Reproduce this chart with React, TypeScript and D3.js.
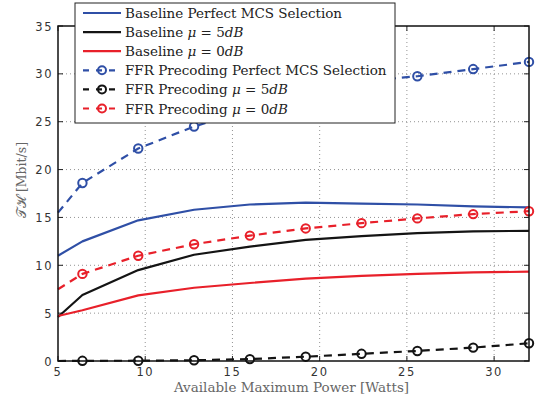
import React from "react";
import * as d3 from "d3";

const xs = [5, 6.4, 9.6, 12.8, 16, 19.2, 22.4, 25.6, 28.8, 32];
const basePerfect = [11.0, 12.5, 14.7, 15.8, 16.35, 16.55, 16.45, 16.35, 16.15, 16.05];
const base5 = [4.6, 6.9, 9.5, 11.1, 11.95, 12.65, 13.05, 13.35, 13.55, 13.6];
const base0 = [4.7, 5.3, 6.85, 7.65, 8.15, 8.6, 8.9, 9.1, 9.25, 9.33];
const ffrPerfect = [15.5, 18.6, 22.2, 24.5, 26.3, 27.9, 29.2, 29.75, 30.5, 31.25];
const ffr5 = [0.0, 0.02, 0.03, 0.08, 0.2, 0.45, 0.75, 1.05, 1.4, 1.85];
const ffr0 = [7.5, 9.1, 11.0, 12.2, 13.1, 13.85, 14.4, 14.9, 15.35, 15.65];
const xTicks = [5, 10, 15, 20, 25, 30];
const yTicks = [0, 5, 10, 15, 20, 25, 30, 35];

const BLUE = "#2f4fa6";
const BLACK = "#141414";
const RED = "#e8202a";

type S = { vals: number[]; color: string; dashed: boolean; label: string; mu?: string };
const series: S[] = [
  { vals: basePerfect, color: BLUE, dashed: false, label: "Baseline Perfect MCS Selection" },
  { vals: base5, color: BLACK, dashed: false, label: "Baseline ", mu: "5" },
  { vals: base0, color: RED, dashed: false, label: "Baseline ", mu: "0" },
  { vals: ffrPerfect, color: BLUE, dashed: true, label: "FFR Precoding Perfect MCS Selection" },
  { vals: ffr5, color: BLACK, dashed: true, label: "FFR Precoding ", mu: "5" },
  { vals: ffr0, color: RED, dashed: true, label: "FFR Precoding ", mu: "0" },
];

export default function App() {
  const W = 538, H = 403;
  const L = 58, R = 529, T = 26, B = 361;
  const x = d3.scaleLinear().domain([5, 32]).range([L, R]);
  const y = d3.scaleLinear().domain([0, 35]).range([B, T]);
  const line = d3.line<number>().x((_, i) => x(xs[i])).y((d) => y(d));
  const serif = "'DejaVu Serif',serif";
  const sans = "'DejaVu Sans', sans-serif";
  const legX = 75, legY = 3, legW = 320, legH = 120;
  return (
    <svg width={W} height={H} style={{ position: "absolute", left: 0, top: 0, background: "#fff" }}>
      <rect x={0} y={0} width={W} height={H} fill="#fff" />
      {xTicks.filter((t) => t !== 5).map((t) => (
        <line key={"gx" + t} x1={x(t)} x2={x(t)} y1={T} y2={B} stroke="#777" strokeWidth={0.8} strokeDasharray="1,3" />
      ))}
      {yTicks.filter((t) => t !== 0 && t !== 35).map((t) => (
        <line key={"gy" + t} x1={L} x2={R} y1={y(t)} y2={y(t)} stroke="#777" strokeWidth={0.8} strokeDasharray="1,3" />
      ))}
      {xTicks.map((t) => (
        <g key={"tx" + t}>
          <line x1={x(t)} x2={x(t)} y1={B} y2={B - 5} stroke="#222" />
          <line x1={x(t)} x2={x(t)} y1={T} y2={T + 5} stroke="#222" />
          <text x={x(t)} y={B + 15} textAnchor="middle" fontFamily={sans} fontSize={11.5} fill="#333" letterSpacing={1.5}>{t}</text>
        </g>
      ))}
      {yTicks.map((t) => (
        <g key={"ty" + t}>
          <line x1={L} x2={L + 5} y1={y(t)} y2={y(t)} stroke="#222" />
          <line x1={R} x2={R - 5} y1={y(t)} y2={y(t)} stroke="#222" />
          <text x={L - 5} y={y(t) + 4.5} textAnchor="end" fontFamily={sans} fontSize={11.5} fill="#333" letterSpacing={1.5}>{t}</text>
        </g>
      ))}
      {series.map((s, si) => (
        <g key={"s" + si}>
          <path d={line(s.vals) || ""} fill="none" stroke={s.color} strokeWidth={2.2} strokeDasharray={s.dashed ? "8,6" : undefined} strokeLinejoin="round" />
          {s.dashed && s.vals.map((v, i) => i === 0 ? null : (
            <circle key={i} cx={x(xs[i])} cy={y(v)} r={4.2} fill="none" stroke={s.color} strokeWidth={2} />
          ))}
        </g>
      ))}
      <rect x={L} y={T} width={R - L} height={B - T} fill="none" stroke="#111" strokeWidth={1.5} />
      <rect x={legX} y={legY} width={legW} height={legH} fill="#fff" stroke="#222" strokeWidth={1} />
      {series.map((s, i) => {
        const cy = 13 + i * 19.1;
        return (
          <g key={"l" + i}>
            <line x1={83} x2={121} y1={cy} y2={cy} stroke={s.color} strokeWidth={2.2} strokeDasharray={s.dashed ? "6,7" : undefined} />
            {s.dashed && <circle cx={102} cy={cy} r={4} fill="none" stroke={s.color} strokeWidth={2} />}
            <text x={125} y={cy + 5} fontFamily={serif} fontSize={13.5} fill="#222">
              {s.label}
              {s.mu && (
                <>
                  <tspan fontStyle="italic">μ</tspan>
                  <tspan> = {s.mu}</tspan>
                  <tspan fontStyle="italic">dB</tspan>
                </>
              )}
            </text>
          </g>
        );
      })}
      <text x={(L + R) / 2 - 2} y={392} textAnchor="middle" fontFamily={serif} fontSize={13.5} fill="#666">Available Maximum Power [Watts]</text>
      <text transform={`translate(26,180) rotate(-90)`} textAnchor="middle" fontFamily={serif} fontSize={12.5} fill="#666">
        <tspan>𝒯ℋ</tspan> [Mbit/s]
      </text>
    </svg>
  );
}
